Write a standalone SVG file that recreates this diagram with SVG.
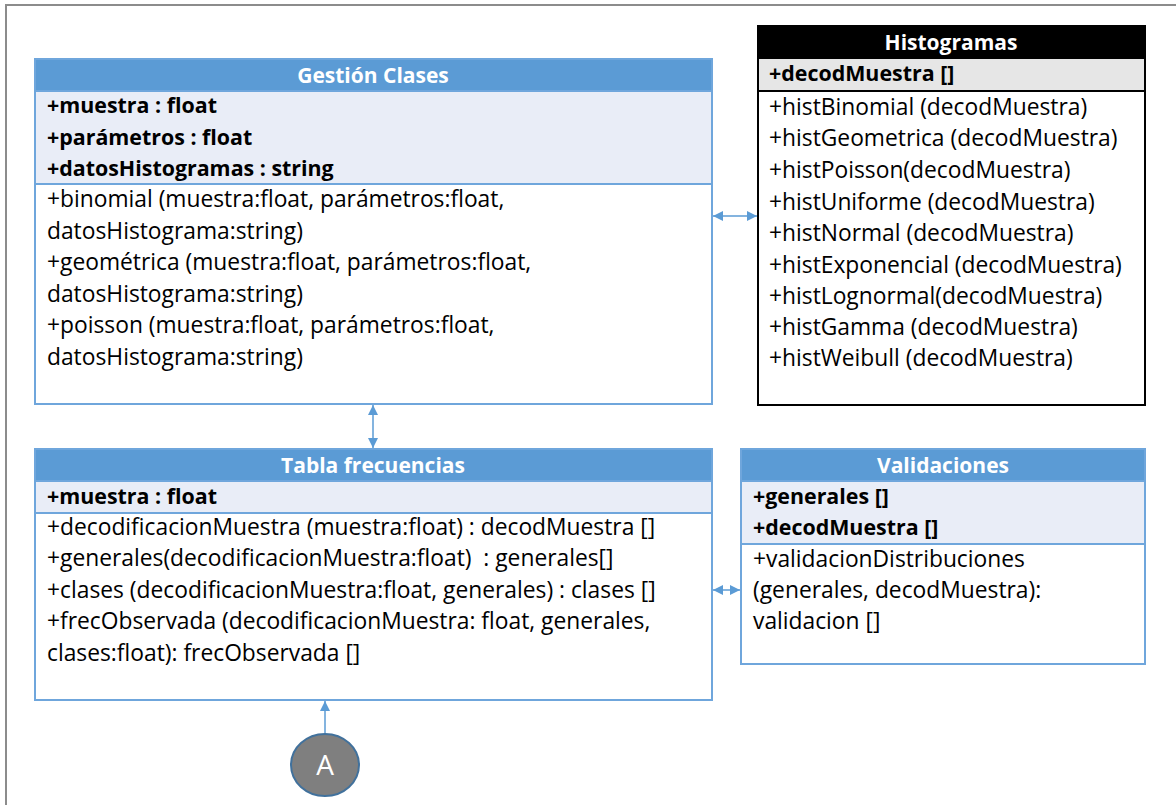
<svg xmlns="http://www.w3.org/2000/svg" width="1176" height="805" viewBox="0 0 1176 805">
<style>
.t{font-family:"Open Sans",Lato,"Liberation Sans",sans-serif;font-size:22.8px;fill:#000}
.b{font-weight:bold;font-size:21.4px}
.h{font-family:"Open Sans",Lato,"Liberation Sans",sans-serif;font-size:21px;font-weight:bold;fill:#fff;text-anchor:middle}
.bx{fill:#fff;stroke:#6fa6dc;stroke-width:2}
.hd{fill:#5b9bd5;stroke:#6fa6dc;stroke-width:2}
.at{fill:#e9edf7;stroke:#6fa6dc;stroke-width:2}
.c{stroke:#5b9bd5;stroke-width:1.5;fill:none}
</style>
<defs>
<marker id="ar" viewBox="0 0 10 10" refX="10" refY="5" markerWidth="10" markerHeight="10" markerUnits="userSpaceOnUse" orient="auto-start-reverse">
<path d="M0,0 L10,5 L0,10 z" fill="#5b9bd5"/>
</marker>
</defs>
<rect width="1176" height="805" fill="#fff"/>
<path d="M6,805 V5 H1176" fill="none" stroke="#8c8c8c" stroke-width="2"/>

<g id="gestion-clases">
<rect class="bx" x="35" y="59" width="677" height="345"/>
<rect class="hd" x="35" y="59" width="677" height="32"/>
<rect class="at" x="35" y="91" width="677" height="93"/>
<text class="h" x="373" y="83">Gestión Clases</text>
<text class="t b" x="47" y="113">+muestra : float</text>
<text class="t b" x="47" y="145">+parámetros : float</text>
<text class="t b" x="47" y="176">+datosHistogramas : string</text>
<text class="t" x="47" y="207">+binomial (muestra:float, parámetros:float,</text>
<text class="t" x="47" y="239">datosHistograma:string)</text>
<text class="t" x="47" y="270">+geométrica (muestra:float, parámetros:float,</text>
<text class="t" x="47" y="302">datosHistograma:string)</text>
<text class="t" x="47" y="333">+poisson (muestra:float, parámetros:float,</text>
<text class="t" x="47" y="365">datosHistograma:string)</text>
</g>

<g id="histogramas">
<rect x="758" y="26" width="387" height="379" fill="#fff" stroke="#000" stroke-width="2"/>
<rect x="758" y="26" width="387" height="32" fill="#000" stroke="#000" stroke-width="2"/>
<rect x="758" y="58" width="387" height="33" fill="#e6e6e6" stroke="#000" stroke-width="2"/>
<text class="h" x="951" y="50">Histogramas</text>
<text class="t b" x="769" y="81">+decodMuestra []</text>
<text class="t" x="769" y="115">+histBinomial (decodMuestra)</text>
<text class="t" x="769" y="146">+histGeometrica (decodMuestra)</text>
<text class="t" x="769" y="178">+histPoisson(decodMuestra)</text>
<text class="t" x="769" y="210">+histUniforme (decodMuestra)</text>
<text class="t" x="769" y="241">+histNormal (decodMuestra)</text>
<text class="t" x="769" y="273">+histExponencial (decodMuestra)</text>
<text class="t" x="769" y="304">+histLognormal(decodMuestra)</text>
<text class="t" x="769" y="335">+histGamma (decodMuestra)</text>
<text class="t" x="769" y="366">+histWeibull (decodMuestra)</text>
</g>

<g id="tabla-frecuencias">
<rect class="bx" x="35" y="449" width="677" height="251"/>
<rect class="hd" x="35" y="449" width="677" height="32"/>
<rect class="at" x="35" y="481" width="677" height="32"/>
<text class="h" x="373" y="473">Tabla frecuencias</text>
<text class="t b" x="47" y="504">+muestra : float</text>
<text class="t" x="47" y="535">+decodificacionMuestra (muestra:float) : decodMuestra []</text>
<text class="t" x="47" y="566" xml:space="preserve">+generales(decodificacionMuestra:float)  : generales[]</text>
<text class="t" x="47" y="598">+clases (decodificacionMuestra:float, generales) : clases []</text>
<text class="t" x="47" y="629">+frecObservada (decodificacionMuestra: float, generales,</text>
<text class="t" x="47" y="661">clases:float): frecObservada []</text>
</g>

<g id="validaciones">
<rect class="bx" x="741" y="449" width="404" height="215"/>
<rect class="hd" x="741" y="449" width="404" height="32"/>
<rect class="at" x="741" y="481" width="404" height="63"/>
<text class="h" x="943" y="473">Validaciones</text>
<text class="t b" x="753" y="504">+generales []</text>
<text class="t b" x="753" y="535">+decodMuestra []</text>
<text class="t" x="753" y="567">+validacionDistribuciones</text>
<text class="t" x="753" y="598">(generales, decodMuestra):</text>
<text class="t" x="753" y="629">validacion []</text>
</g>

<g id="actor-a">
<ellipse cx="325" cy="765" rx="34" ry="31" fill="#7f7f7f" stroke="#41719c" stroke-width="2"/>
<text x="325" y="775" text-anchor="middle" font-family="'Open Sans',Lato,'Liberation Sans',sans-serif" font-size="28" fill="#fff">A</text>
</g>

<g id="connectors">
<line class="c" x1="713" y1="216" x2="757" y2="216" marker-start="url(#ar)" marker-end="url(#ar)"/>
<line class="c" x1="373" y1="405" x2="373" y2="448" marker-start="url(#ar)" marker-end="url(#ar)"/>
<line class="c" x1="713" y1="590" x2="740" y2="590" marker-start="url(#ar)" marker-end="url(#ar)"/>
<line class="c" x1="325" y1="733" x2="325" y2="701" marker-end="url(#ar)"/>
</g>
</svg>
